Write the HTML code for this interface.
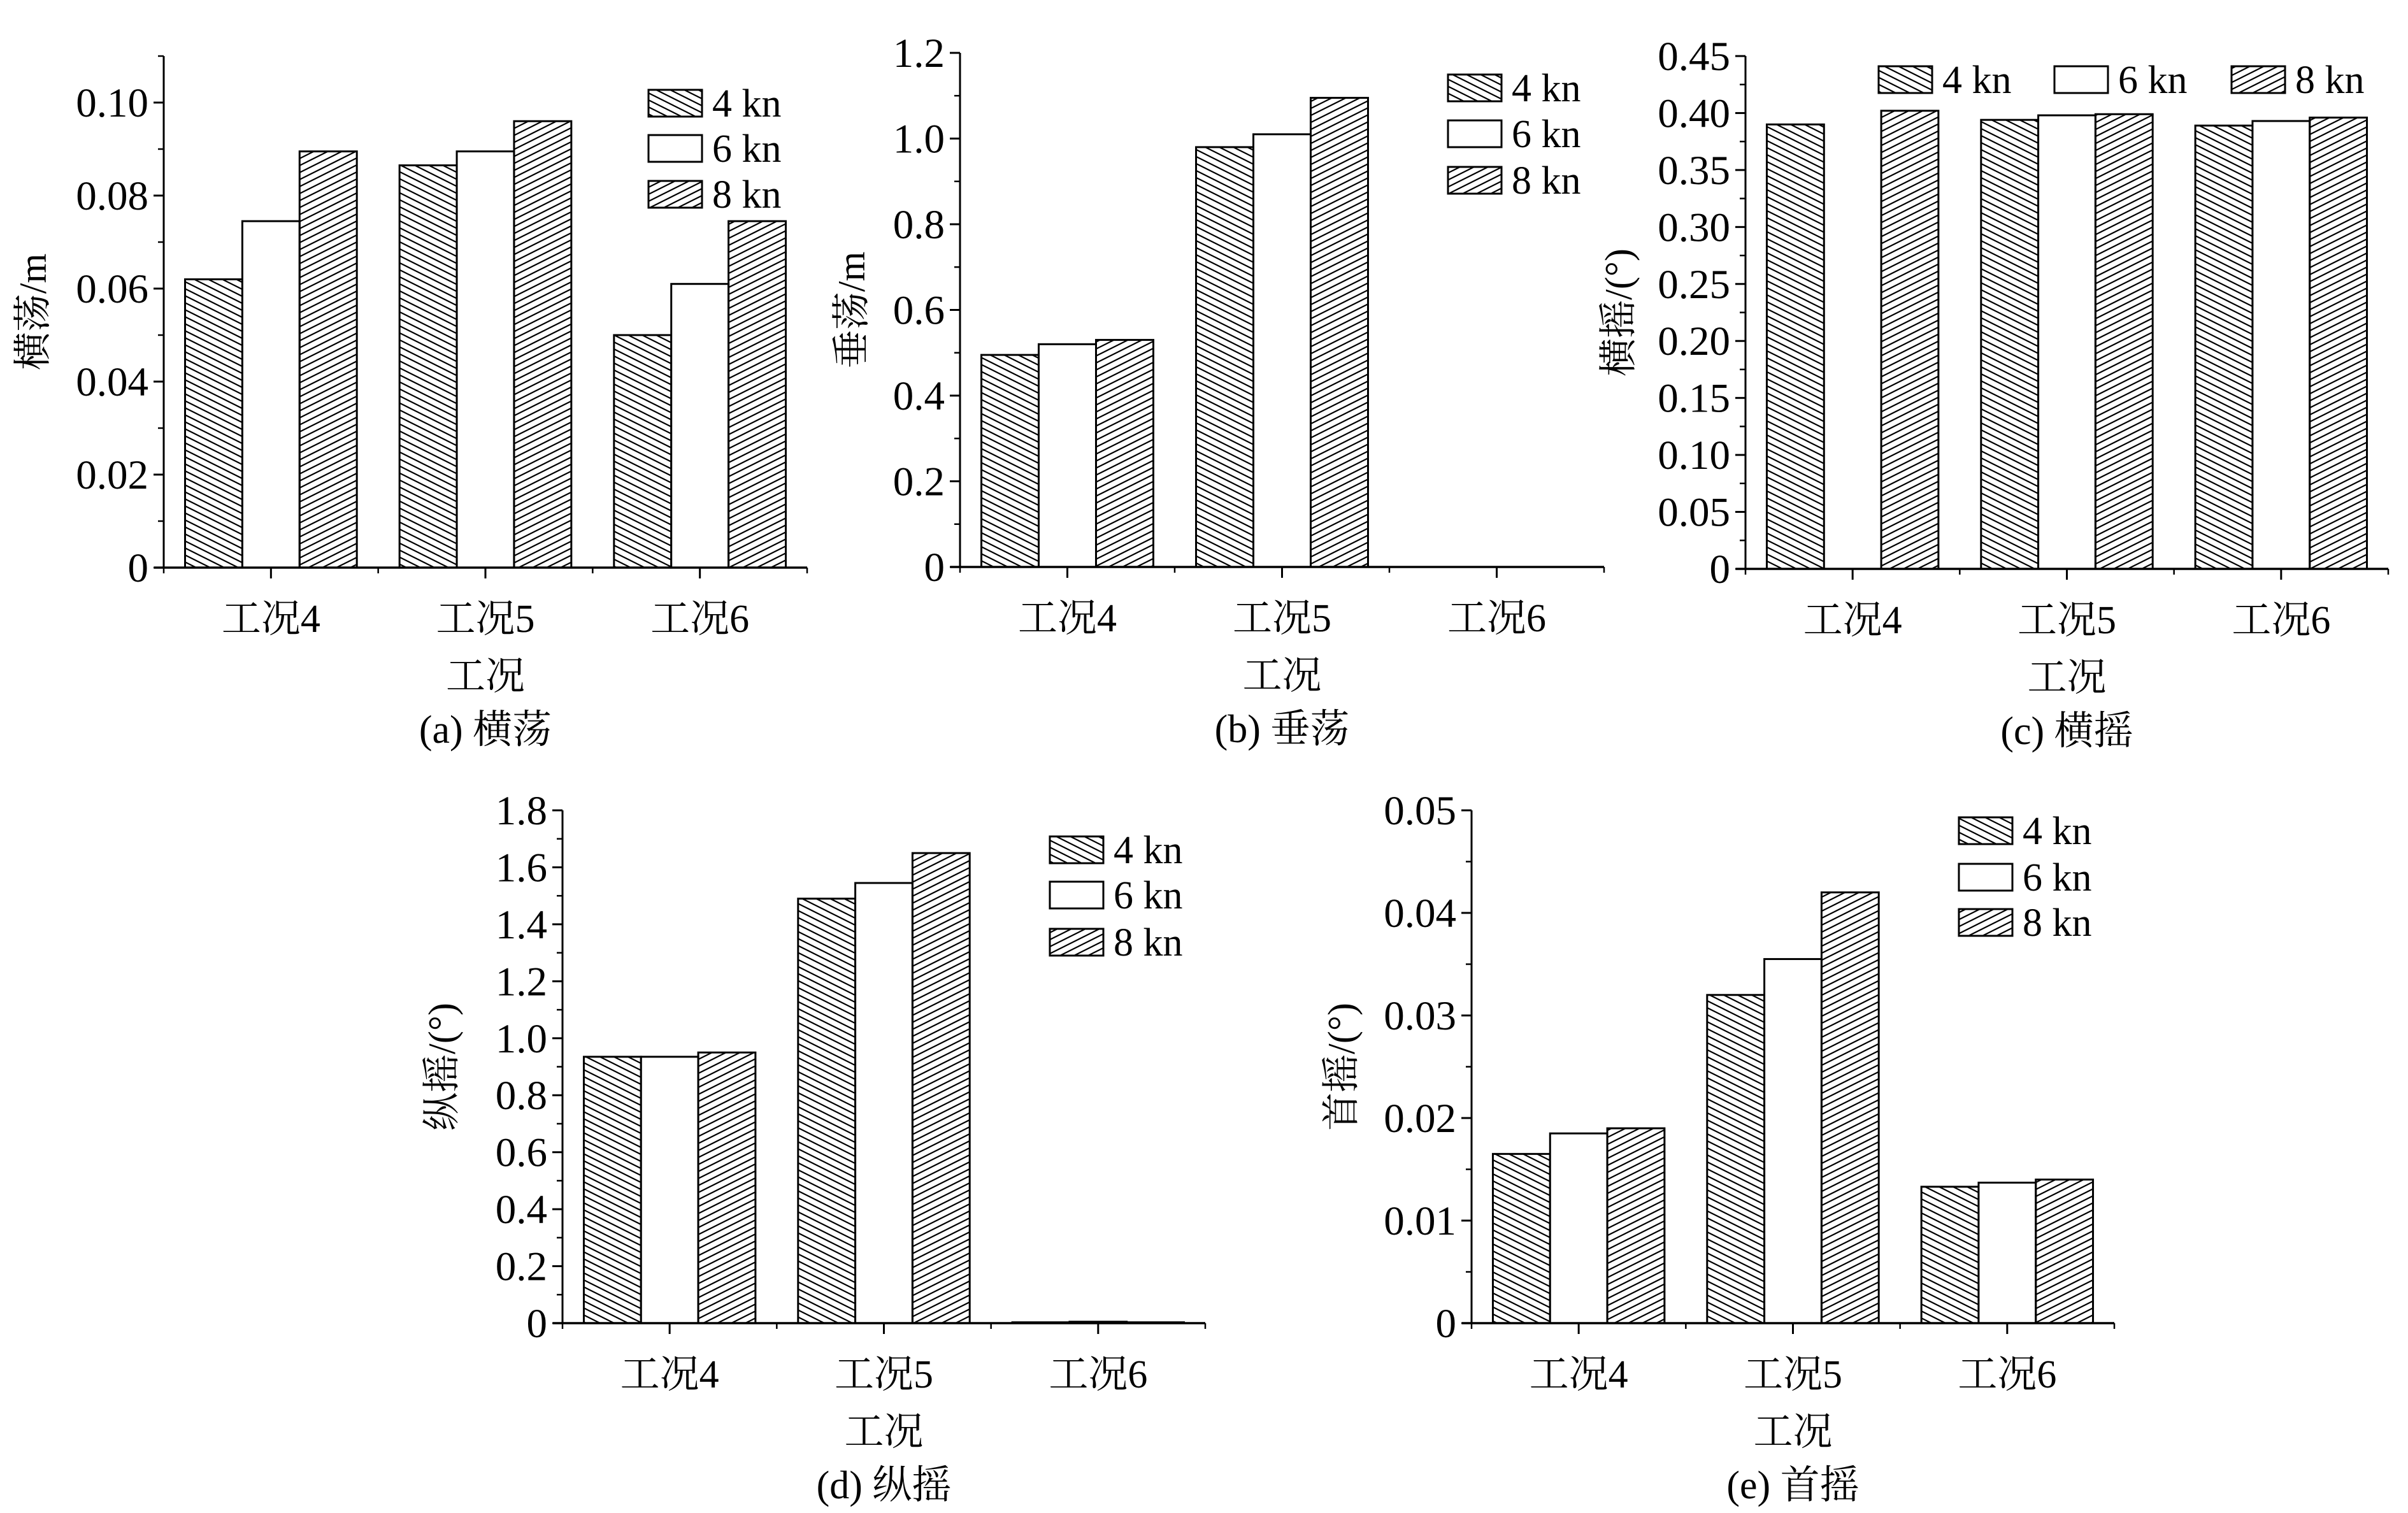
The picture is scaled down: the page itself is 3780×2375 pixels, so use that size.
<!DOCTYPE html>
<html><head><meta charset="utf-8">
<style>
html,body{margin:0;padding:0;background:#fff;}
svg{display:block;}
text{font-family:"Liberation Serif","Noto Serif CJK SC","Noto Sans CJK SC",serif;fill:#000;}
</style></head>
<body>
<svg id="fig" width="3780" height="2375" viewBox="0 0 3780 2375" xmlns="http://www.w3.org/2000/svg">
<defs>
<pattern id="hatchBack" patternUnits="userSpaceOnUse" width="22" height="11">
<line x1="-2" y1="-1" x2="24" y2="12" stroke="#000" stroke-width="2.2"/>
<line x1="-24" y1="-1" x2="2" y2="12" stroke="#000" stroke-width="2.2"/>
<line x1="20" y1="-1" x2="46" y2="12" stroke="#000" stroke-width="2.2"/>
</pattern>
<pattern id="hatchFwd" patternUnits="userSpaceOnUse" width="22" height="11">
<line x1="-2" y1="12" x2="24" y2="-1" stroke="#000" stroke-width="2.2"/>
<line x1="-24" y1="12" x2="2" y2="-1" stroke="#000" stroke-width="2.2"/>
<line x1="20" y1="12" x2="46" y2="-1" stroke="#000" stroke-width="2.2"/>
</pattern>
</defs>
</svg>
<script>
// ---- data ----
const categories = ['工况4','工况5','工况6'];
const seriesNames = ['4 kn','6 kn','8 kn'];

const aV4 = [0.062, 0.0865, 0.050];
const aV6 = [0.0745, 0.0895, 0.061];
const aV8 = [0.0895, 0.096, 0.0745];
const aTicks = ['0','0.02','0.04','0.06','0.08','0.10'];

const bV4 = [0.495, 0.98, 0];
const bV6 = [0.52, 1.01, 0];
const bV8 = [0.53, 1.095, 0];
const bTicks = ['0','0.2','0.4','0.6','0.8','1.0','1.2'];

const cV4 = [0.390, 0.394, 0.389];
const cV6 = [0, 0.398, 0.393];
const cV8 = [0.402, 0.399, 0.396];
const cTicks = ['0','0.05','0.10','0.15','0.20','0.25','0.30','0.35','0.40','0.45'];

const dV4 = [0.935, 1.49, 0.003];
const dV6 = [0.935, 1.545, 0.005];
const dV8 = [0.95, 1.65, 0.003];
const dTicks = ['0','0.2','0.4','0.6','0.8','1.0','1.2','1.4','1.6','1.8'];

const eV4 = [0.0165, 0.032, 0.0133];
const eV6 = [0.0185, 0.0355, 0.0137];
const eV8 = [0.019, 0.042, 0.014];
const eTicks = ['0','0.01','0.02','0.03','0.04','0.05'];

// ---- drawing ----
const NS = 'http://www.w3.org/2000/svg';
const svg = document.getElementById('fig');
function mk(tag, attrs, parent){
  const e = document.createElementNS(NS, tag);
  for (const k in attrs) e.setAttribute(k, attrs[k]);
  (parent||svg).appendChild(e);
  return e;
}
const fills = ['url(#hatchBack)','#fff','url(#hatchFwd)'];
const FF = '"Liberation Serif","Noto Serif CJK SC","Noto Sans CJK SC",serif';

function chart(cfg){
  const g = mk('g', {});
  
  
  const x0 = cfg.x0, x1 = cfg.x1, y0 = cfg.y0, yTop = cfg.yTop;
  const ymax = cfg.ymax;
  const yS = v => y0 - v / ymax * (y0 - yTop);
  const band = (x1 - x0) / categories.length;
  const xC = i => x0 + band * (i + 0.5);
  const bw = band * 0.267;
  const series = cfg.series;
  for (let s = 0; s < series.length; s++){
    for (let i = 0; i < categories.length; i++){
      const v = series[s][i];
      const bx = xC(i) - 1.5*bw + s*bw;
      const by = yS(v);
      const r = mk('rect', {x: bx, y: by, width: bw, height: Math.max(0, y0 - by), fill: fills[s], stroke: '#000', 'stroke-width': 3}, g);
      
      
    }
  }
  const ya = mk('line', {x1: x0, y1: y0 + 1, x2: x0, y2: yTop, stroke: '#000', 'stroke-width': 3}, g);
  
  
  const xa = mk('line', {x1: x0 - 15, y1: y0, x2: x1, y2: y0, stroke: '#000', 'stroke-width': 3.5}, g);
  
  
  const n = cfg.ticks.length - 1;
  const step = cfg.step;
  for (let k = 0; k <= n; k++){
    const yy = yS(k*step);
    mk('line', {x1: x0 - 16, y1: yy, x2: x0, y2: yy, stroke: '#000', 'stroke-width': 3}, g);
    const t = mk('text', {x: x0 - 24, y: yy + 22, 'text-anchor': 'end', 'font-size': 65, 'font-family': FF}, g);
    t.textContent = cfg.ticks[k];
    
    
  }
  for (let m = 0.5; m*step <= ymax + 1e-9; m += 1){
    const ym = yS(m*step);
    mk('line', {x1: x0 - 9, y1: ym, x2: x0, y2: ym, stroke: '#000', 'stroke-width': 2.5}, g);
  }
  for (let i = 0; i <= categories.length; i++){
    const xb = x0 + band*i;
    mk('line', {x1: xb, y1: y0, x2: xb, y2: y0 + 9, stroke: '#000', 'stroke-width': 2.5}, g);
  }
  for (let i = 0; i < categories.length; i++){
    mk('line', {x1: xC(i), y1: y0, x2: xC(i), y2: y0 + 17, stroke: '#000', 'stroke-width': 3}, g);
    const t = mk('text', {x: xC(i), y: y0 + 101, 'text-anchor': 'middle', 'font-size': 62, 'font-family': FF}, g);
    t.textContent = categories[i];
    
    
  }
  const xm = (x0 + x1) / 2;
  const xt = mk('text', {x: xm, y: y0 + 191, 'text-anchor': 'middle', 'font-size': 62, 'font-family': FF}, g);
  xt.textContent = '工况';
  
  
  const cap = mk('text', {x: xm, y: y0 + 275, 'text-anchor': 'middle', 'font-size': 62, 'font-family': FF}, g);
  cap.textContent = cfg.caption;
  
  
  const ymid = (y0 + yTop) / 2;
  const yt = mk('text', {x: cfg.ytx, y: ymid, 'text-anchor': 'middle', 'font-size': 60, 'font-family': FF, transform: 'rotate(-90 ' + cfg.ytx + ' ' + ymid + ')', dy: 20}, g);
  yt.textContent = cfg.ytitle;
  
  
  for (let s = 0; s < 3; s++){
    const lx = cfg.leg[s][0], ly = cfg.leg[s][1];
    const le = mk('g', {}, g);
    
    
    mk('rect', {x: lx, y: ly - 21, width: 84, height: 42, fill: fills[s], stroke: '#000', 'stroke-width': 3}, le);
    const t = mk('text', {x: lx + 100, y: ly + 21, 'font-size': 62, 'font-family': FF}, le);
    t.textContent = seriesNames[s];
  }
}

chart({id:'a', x0:257, x1:1267, y0:891, yTop:88, ymax:0.11, step:0.02, ticks:aTicks,
  series:[aV4,aV6,aV8], caption:'(a) 横荡', ytitle:'横荡/m', ytx:52,
  leg:[[1018,162],[1018,233],[1018,305]]});
chart({id:'b', x0:1507, x1:2518, y0:890, yTop:83, ymax:1.2, step:0.2, ticks:bTicks,
  series:[bV4,bV6,bV8], caption:'(b) 垂荡', ytitle:'垂荡/m', ytx:1337,
  leg:[[2273,138],[2273,210],[2273,283]]});
chart({id:'c', x0:2740, x1:3749, y0:893, yTop:88, ymax:0.45, step:0.05, ticks:cTicks,
  series:[cV4,cV6,cV8], caption:'(c) 横摇', ytitle:'横摇/(°)', ytx:2541,
  leg:[[2949,125],[3225,125],[3503,125]]});
chart({id:'d', x0:883, x1:1892, y0:2077, yTop:1272, ymax:1.8, step:0.2, ticks:dTicks,
  series:[dV4,dV6,dV8], caption:'(d) 纵摇', ytitle:'纵摇/(°)', ytx:694,
  leg:[[1648,1334],[1648,1405],[1648,1479]]});
chart({id:'e', x0:2310, x1:3319, y0:2077, yTop:1272, ymax:0.05, step:0.01, ticks:eTicks,
  series:[eV4,eV6,eV8], caption:'(e) 首摇', ytitle:'首摇/(°)', ytx:2106,
  leg:[[3075,1304],[3075,1377],[3075,1448]]});
</script>
</body></html>
